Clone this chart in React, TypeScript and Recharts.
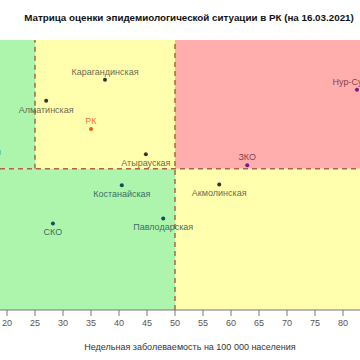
import { ScatterChart, Scatter, XAxis, YAxis, ReferenceArea, ReferenceLine } from 'recharts';

const regions = ['Карагандинская', 'Алматинская', 'РК', 'Атырауская', 'Нур-Султан', 'ЗКО', 'Костанайская', 'СКО', 'Павлодарская', 'Акмолинская', 'Жамбылская'];
const incidence = [37.5, 27.0, 35.0, 44.8, 82.5, 62.9, 40.5, 28.2, 47.9, 57.9, 14.0];
const rt = [1.314, 1.24, 1.14, 1.051, 1.279, 1.012, 0.941, 0.806, 0.824, 0.944, 1.09];
const labelAbove = ['Карагандинская', 'РК', 'Нур-Султан', 'ЗКО'];
const xTicks = [20, 25, 30, 35, 40, 45, 50, 55, 60, 65, 70, 75, 80];

const X_MIN = 18.75;
const X_MAX = 83.04;
const Y_MIN = 0.5;
const Y_MAX = 1.455;

const data = regions.map((name, i) => ({ name, x: incidence[i], y: rt[i] }));

const GREEN = '#adf5ad';
const YELLOW = '#ffffad';
const RED = '#ffadad';
const DASH = '#b3613f';
const FONT = '"Liberation Sans", Arial, sans-serif';

// dot colour and label colour depend on the zone
function zoneColor(name: string, x: number, y: number) {
  if (name === 'РК') return ['#e8641e', '#e8641e'];
  if (y >= 1 && x >= 50) return ['#7a1a8a', '#6a2a35'];
  if (y < 1 && x < 50) return ['#0d4f5a', '#24504f'];
  if (y >= 1 && x < 25) return ['#0d4f5a', '#24504f'];
  return ['#333333', '#4a4a3a'];
}

const Point = (props: any) => {
  const { cx, cy, payload } = props;
  const [dot, lab] = zoneColor(payload.name, payload.x, payload.y);
  const above = labelAbove.includes(payload.name);
  return (
    <g>
      <circle cx={cx} cy={cy} r={2} fill={dot} />
      <text
        x={cx}
        y={above ? cy - 5 : cy + 12}
        textAnchor="middle"
        fontSize={9}
        fontFamily={FONT}
        fill={lab}
        fillOpacity={payload.name === 'РК' ? 0.9 : 0.85}
      >
        {payload.name}
      </text>
    </g>
  );
};

export default function App() {
  return (
    <div style={{ position: 'absolute', left: 0, top: 0, width: 360, height: 360, background: '#fff' }}>
      <div
        style={{
          position: 'absolute', top: 12, left: 18, width: 342, textAlign: 'center',
          fontFamily: FONT, fontWeight: 'bold', fontSize: 9.8, color: '#111',
        }}
      >
        Матрица оценки эпидемиологической ситуации в РК (на 16.03.2021)
      </div>
      <ScatterChart width={360} height={360} margin={{ top: 40, right: 0, bottom: 0, left: 0 }}>
        <XAxis
          type="number"
          dataKey="x"
          domain={[X_MIN, X_MAX]}
          allowDataOverflow
          ticks={xTicks}
          height={50}
          tickSize={6}
          tickMargin={4}
          stroke="#777"
          tick={{ fontSize: 9, fontFamily: FONT, fill: '#555' }}
          label={{
            content: () => (
              <text x={190} y={350} textAnchor="middle" fontSize={9} fontFamily={FONT} fill="#333">
                Недельная заболеваемость на 100 000 населения
              </text>
            ),
          }}
        />
        <YAxis type="number" dataKey="y" domain={[Y_MIN, Y_MAX]} allowDataOverflow hide />
        <ReferenceArea x1={X_MIN} x2={25} y1={1} y2={Y_MAX} fill={GREEN} fillOpacity={1} />
        <ReferenceArea x1={25} x2={50} y1={1} y2={Y_MAX} fill={YELLOW} fillOpacity={1} />
        <ReferenceArea x1={50} x2={X_MAX} y1={1} y2={Y_MAX} fill={RED} fillOpacity={1} />
        <ReferenceArea x1={X_MIN} x2={50} y1={Y_MIN} y2={1} fill={GREEN} fillOpacity={1} />
        <ReferenceArea x1={50} x2={X_MAX} y1={Y_MIN} y2={1} fill={YELLOW} fillOpacity={1} />
        <ReferenceLine y={1} stroke={DASH} strokeWidth={1.5} strokeDasharray="5 4" />
        <ReferenceLine x={50} stroke={DASH} strokeWidth={1.5} strokeDasharray="5 4" />
        <ReferenceLine
          segment={[{ x: 25, y: 1 }, { x: 25, y: Y_MAX }]}
          stroke={DASH}
          strokeWidth={1.5}
          strokeDasharray="5 4"
        />
        <Scatter data={data} shape={<Point />} isAnimationActive={false} />
      </ScatterChart>
    </div>
  );
}
